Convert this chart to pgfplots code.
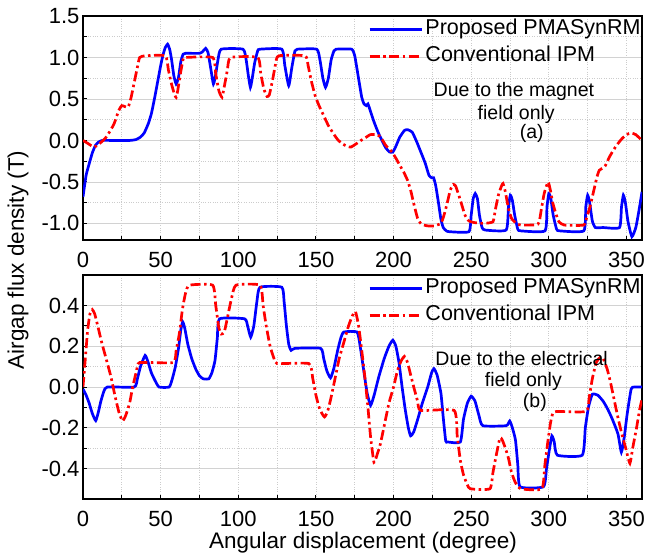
\documentclass[border=0pt]{standalone}
\usepackage{pgfplots}
\pgfplotsset{compat=1.18}
\usepackage{fontspec}
\setmainfont{Liberation Sans}

\pgfplotstableread{
x y
0 -0.68
2 -0.42
4 -0.28
6 -0.15
8 -0.06
10 -0.02
12.5 0
20 0
30 0
34 0.01
37 0.04
39.4 0.09
42 0.2
44 0.32
46 0.5
48 0.7
50 0.9
51.5 1.03
53 1.12
54.5 1.16
55.8 1.1
57 0.98
58.5 0.78
60 0.68
61.5 0.76
63 0.95
64.5 1.04
66 1.05
75 1.05
77 1.07
79 1.11
80.5 1.06
82 0.9
84 0.68
85.5 0.8
87 0.98
89 1.1
103 1.1
105 0.98
106.5 0.78
107.8 0.64
109 0.75
110.6 0.94
112.5 1.08
114 1.1
128 1.1
130 0.9
132.5 0.66
134.5 0.88
136.5 1.08
138 1.1
150.5 1.1
152.5 0.98
154.5 0.75
156.2 0.64
158 0.75
159.8 0.97
161.6 1.08
163 1.1
173 1.1
175 1.02
177 0.8
179.5 0.52
181 0.44
182.5 0.42
183.5 0.44
185 0.36
187.5 0.22
190 0.1
192 0.02
195 -0.09
197.5 -0.14
199.5 -0.14
201.5 -0.07
204 0.04
207 0.12
209 0.13
212 0.1
215 -0.02
218 -0.16
220.5 -0.28
222.8 -0.42
224.5 -0.45
225.8 -0.45
227.2 -0.55
229 -0.76
230.5 -0.95
232 -1.05
234 -1.09
236 -1.1
248.5 -1.1
250 -0.9
251.3 -0.7
252.6 -0.64
254 -0.7
255.3 -0.9
257 -1.05
259 -1.08
272.5 -1.08
274 -0.8
275.2 -0.66
276.5 -0.72
278 -0.9
280 -1.07
282 -1.09
297.5 -1.09
298.8 -0.8
300 -0.64
301.3 -0.7
302.8 -0.9
305 -1.07
307 -1.09
322.5 -1.09
323.8 -0.8
325 -0.66
326.3 -0.75
328 -0.97
330 -1.05
335 -1.05
345.5 -1.05
346.8 -0.8
348 -0.66
349.3 -0.75
351 -0.98
353.5 -1.16
356 -1.05
358 -0.85
360 -0.62
}\topblue

\pgfplotstableread{
x y
0 0.0
3.5 -0.04
7 -0.08
10 -0.05
14.5 0.03
17 0.1
20 0.2
23 0.36
25 0.42
29 0.4
31 0.52
33 0.7
35 0.88
36.5 1.0
40 1.02
53 1.02
55 0.85
57 0.68
59 0.55
60 0.52
61 0.6
62.5 0.78
64.5 0.98
66 1.0
83.5 1.0
85.5 0.8
87.5 0.6
89.5 0.52
91 0.65
93 0.85
95 1.0
112.5 1.0
114.5 0.8
116.5 0.62
118.5 0.53
120 0.55
122 0.72
124 0.92
126 1.02
143 1.02
145 0.9
147 0.72
149.5 0.54
152 0.42
155 0.3
158 0.18
161 0.09
164 0.01
167 -0.04
170 -0.07
172.5 -0.08
176 -0.04
179 0.0
182.5 0.04
185 0.07
189.5 0.07
192 0.03
195 -0.06
199 -0.14
202 -0.23
204 -0.3
206.5 -0.38
209 -0.48
211 -0.6
213 -0.76
215.5 -0.94
218 -1.01
222 -1.03
226 -1.03
230.5 -1.0
232.5 -0.9
234.5 -0.76
236.5 -0.6
238.5 -0.53
240 -0.55
242 -0.66
244 -0.78
246 -0.9
248.5 -0.97
252 -0.99
258 -1.0
264 -0.98
265.5 -0.84
267.5 -0.66
269.5 -0.55
270.5 -0.52
272 -0.62
274 -0.82
276 -0.94
279 -1.0
282 -1.02
293 -1.01
295 -0.85
297 -0.64
299.5 -0.5
301 -0.6
302.5 -0.75
304.5 -0.88
306.5 -0.98
310 -1.02
322.5 -1.02
324.5 -0.92
326.5 -0.8
329 -0.6
331 -0.44
332.5 -0.36
335 -0.33
336.5 -0.3
339 -0.2
341.5 -0.12
344 -0.05
347 0.02
350 0.07
353 0.09
356 0.07
360 0.0
}\topred

\pgfplotstableread{
x y
0 -0.01
2 -0.04
4 -0.08
6 -0.13
8.2 -0.165
10 -0.12
11.5 -0.07
13.5 -0.02
15.7 0.0
33 0.0
35 0.04
37 0.1
40 0.155
42 0.12
44 0.07
46.5 0.03
49 0.0
55.5 0.0
57.5 0.04
59.5 0.1
61.5 0.19
63 0.28
64.2 0.32
65.5 0.29
67.5 0.21
70 0.14
72.5 0.09
75 0.055
77.5 0.04
81 0.04
83 0.07
85 0.13
86.5 0.24
88 0.335
104 0.335
106 0.3
108 0.245
110 0.3
112 0.42
114 0.49
128 0.49
129.5 0.42
131 0.3
132.5 0.21
134 0.18
136.5 0.19
153 0.19
155 0.14
157 0.08
159.4 0.045
161.5 0.09
164 0.18
166 0.24
168 0.27
176.5 0.27
178.5 0.2
181 0.07
183 -0.03
185.2 -0.09
187.5 -0.04
190.5 0.05
194 0.14
197 0.2
199.5 0.23
201.5 0.2
203.5 0.12
205.5 0.0
207.5 -0.11
209.5 -0.2
211 -0.24
213 -0.22
215.5 -0.16
218.5 -0.08
222 0.0
224.5 0.07
226 0.09
228 0.06
230.5 -0.03
232 -0.15
233.6 -0.265
235 -0.27
243 -0.27
245 -0.16
247.5 -0.08
250 -0.045
252.5 -0.07
255 -0.14
257.5 -0.19
272.5 -0.19
274.8 -0.167
276.5 -0.2
278.5 -0.26
280 -0.38
281.5 -0.49
296.5 -0.49
298.5 -0.4
300.5 -0.3
302 -0.24
303.5 -0.27
305.5 -0.335
321.5 -0.335
323.5 -0.2
325.5 -0.1
328 -0.036
331.5 -0.04
335 -0.07
338 -0.11
341 -0.16
344.5 -0.23
346.7 -0.32
348.5 -0.25
350.5 -0.13
353 -0.01
355 0.0
360 0.0
}\botblue

\pgfplotstableread{
x y
0 0.0
1.5 0.14
3 0.28
4.5 0.36
6 0.38
7.5 0.36
9.5 0.3
12 0.22
14.5 0.15
18 0.05
20.5 -0.04
23 -0.12
25.4 -0.167
27.5 -0.14
30 -0.08
32 0.0
34.5 0.08
36.5 0.12
58 0.12
60 0.18
62 0.26
64 0.38
66 0.46
68.5 0.5
83.5 0.5
85.5 0.4
87.5 0.29
89 0.26
91 0.27
93 0.34
95.5 0.43
98.5 0.5
114 0.5
116 0.4
118 0.3
120.5 0.2
123 0.14
125 0.115
145.5 0.115
148 0.04
150 -0.04
152.5 -0.11
155.5 -0.147
157.5 -0.12
159.5 -0.06
162 0.03
165 0.14
168 0.22
171 0.3
173.5 0.35
175.5 0.37
177.5 0.3
179.5 0.18
181.5 0.05
183.5 -0.1
185.2 -0.245
187.4 -0.37
189.5 -0.33
191.5 -0.28
194 -0.19
197 -0.08
200 0.0
202.5 0.08
205 0.13
207 0.15
209 0.12
211 0.06
213 0.0
215.5 -0.07
217.5 -0.115
239 -0.115
241 -0.24
243 -0.36
245 -0.43
247.5 -0.48
249.5 -0.5
262 -0.5
264 -0.42
266 -0.34
268.5 -0.25
270 -0.26
272 -0.3
274 -0.35
276 -0.42
278.5 -0.47
282 -0.5
295.5 -0.5
297.5 -0.38
299.5 -0.26
301 -0.18
302.5 -0.13
305 -0.12
324 -0.12
326 -0.05
328 0.04
330.5 0.12
333 0.145
335 0.14
337.5 0.09
339.5 0.03
342 -0.06
344.5 -0.15
347 -0.23
349.5 -0.3
352.2 -0.375
354 -0.3
356.5 -0.2
358.5 -0.11
360 -0.06
}\botred

\definecolor{myblue}{RGB}{0,0,255}
\definecolor{myred}{RGB}{255,0,0}

\pgfplotsset{
  mystyle/.style={
    scale only axis,
    width=559pt, height=224pt,
    xmin=0, xmax=360,
    xtick={0,50,...,350},
    minor x tick num=1,
    minor y tick num=1,
    tick pos=left,
    tick align=inside,
    major tick length=4pt,
    minor tick length=4pt,
    every tick/.style={black, line width=1pt},
    axis line style={line width=1.6pt},
    grid=both,
    major x grid style={gray!40, dotted, line width=0.7pt},
    minor x grid style={gray!40, dotted, line width=0.7pt},
    major y grid style={gray!35, line width=0.7pt},
    minor y grid style={gray!40, dotted, line width=0.7pt},
    tick label style={font=\fontsize{22}{26}\selectfont},
    /pgf/number format/assume math mode=true,
    yticklabel style={/pgf/number format/.cd, fixed, fixed zerofill, precision=1},
    xticklabel style={yshift=-9pt, /pgf/number format/.cd, fixed, precision=0},
    legend cell align=left,
    legend image code/.code={\draw[#1] (0pt,0pt) -- (52pt,0pt);},
    bl/.style={myblue, line width=2.7pt, smooth, tension=0.3},
    rd/.style={myred, line width=2.7pt, smooth, tension=0.3,
      dash pattern=on 10pt off 3.5pt on 2.5pt off 3.5pt},
  },
  mylegend/.style={
    legend style={at={(rel axis cs:0.51,1.0)}, anchor=north west,
      draw=none, fill=none, font=\fontsize{21.5}{25}\selectfont,
      inner sep=0pt,
      nodes={inner sep=2.5pt, minimum height=27pt, text depth=5pt}},
  },
}

\begin{document}
\begin{tikzpicture}
\useasboundingbox (0,0) rectangle (647pt,554pt);

\begin{axis}[mystyle,
  at={(83pt,314pt)}, anchor=south west,
  ymin=-1.2, ymax=1.5,
  ytick={-1,-0.5,0,0.5,1,1.5},
  mylegend,
]
\addplot[bl] table[x=x,y=y] {\topblue};
\addlegendentry{Proposed PMASynRM}
\addplot[rd] table[x=x,y=y] {\topred};
\addlegendentry{Conventional IPM}
\node[font=\fontsize{19.5}{22}\selectfont] at (axis cs:277.5,0.585) {Due to the magnet};
\node[font=\fontsize{19.5}{22}\selectfont] at (axis cs:279,0.31) {field only};
\node[font=\fontsize{19.5}{22}\selectfont] at (axis cs:289,0.08) {(a)};
\end{axis}

\begin{axis}[mystyle,
  at={(83pt,55pt)}, anchor=south west,
  ymin=-0.55, ymax=0.55,
  ytick={-0.4,-0.2,0,0.2,0.4},
  mylegend,
]
\addplot[bl] table[x=x,y=y] {\botblue};
\addlegendentry{Proposed PMASynRM}
\addplot[rd] table[x=x,y=y] {\botred};
\addlegendentry{Conventional IPM}
\node[font=\fontsize{19.5}{22}\selectfont] at (axis cs:282.5,0.14) {Due to the electrical};
\node[font=\fontsize{19.5}{22}\selectfont] at (axis cs:283.6,0.025) {field only};
\node[font=\fontsize{19.5}{22}\selectfont] at (axis cs:291,-0.075) {(b)};
\end{axis}

\node[rotate=90, font=\fontsize{22.5}{26}\selectfont] at (18pt,294pt) {Airgap flux density (T)};
\node[font=\fontsize{22.5}{26}\selectfont] at (363pt,11pt) {Angular displacement (degree)};
\end{tikzpicture}
\end{document}
